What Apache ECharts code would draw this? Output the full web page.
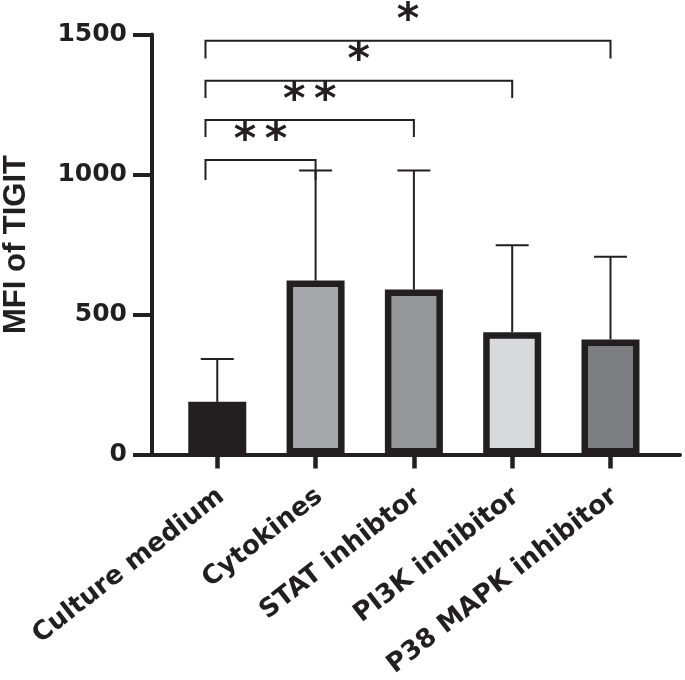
<!DOCTYPE html>
<html><head><meta charset="utf-8">
<script src="https://cdn.jsdelivr.net/npm/echarts@6/dist/echarts.min.js"></script>
<style>html,body{margin:0;padding:0;background:#fff}#c{width:685px;height:680px}</style>
</head><body><div id="c"></div>
<script>
const categories = ['Culture medium', 'Cytokines', 'STAT inhibtor', 'PI3K inhibitor', 'P38 MAPK inhibitor'];
const means = [188, 621, 589, 437, 411];
const upperErrors = [341, 1014, 1014, 747, 706];
const barColors = ['#231f20', '#a6a7aa', '#959698', '#d8d9db', '#7d7e81'];
const yTicks = [0, 500, 1000, 1500];
const bracketFrom = [1, 1, 1, 1];
const bracketTo = [2, 3, 4, 5];
const bracketTop = [1052, 1195, 1335, 1478];
const bracketBottom = [980, 1134, 1273, 1414];
const bracketLabels = ['*\u2009*', '*\u2009*', '*', '*'];
const starY = [1148, 1291, 1434, 1577];

const INK = '#231f20';
const chart = echarts.init(document.getElementById('c'));
const positions = categories.map((c, i) => i + 1);

chart.setOption({
  animation: false,
  backgroundColor: '#fff',
  grid: {left: 152, right: 5, top: 34.5, bottom: 225.5, containLabel: false, outerBoundsMode: 'none'},
  xAxis: {
    type: 'value', min: 0.336, max: 5.707,
    splitLine: {show: false},
    axisLine: {show: true, lineStyle: {color: INK, width: 4}},
    axisTick: {show: true, customValues: positions, length: 14, lineStyle: {color: INK, width: 4.5}},
    axisLabel: {
      customValues: positions.map(p => p + 0.04),
      formatter: v => categories[Math.round(v) - 1] || '',
      rotate: 38, margin: 39, color: INK,
      fontFamily: 'DejaVu Sans', fontWeight: 'bold', fontSize: 26
    }
  },
  yAxis: {
    type: 'value', min: yTicks[0], max: yTicks[yTicks.length - 1], interval: 500,
    splitLine: {show: false},
    axisLine: {show: true, lineStyle: {color: INK, width: 4}},
    axisTick: {show: true, length: 19, lineStyle: {color: INK, width: 4}},
    axisLabel: {margin: 25, color: INK, fontFamily: 'DejaVu Sans', fontWeight: 'bold', fontSize: 25, formatter: v => String(v)},
    name: 'MFI of TIGIT', nameLocation: 'middle', nameGap: 120,
    nameTextStyle: {color: INK, fontFamily: 'Liberation Sans', fontWeight: 'bold', fontSize: 31}
  },
  series: [
    {
      type: 'custom', name: 'error', z: 1,
      data: positions.map((p, i) => [p, means[i], upperErrors[i]]),
      encode: {x: 0, y: [1, 2]},
      renderItem: (params, api) => {
        const x = api.value(0);
        const b = api.coord([x, api.value(1)]);
        const t = api.coord([x, api.value(2)]);
        return {type: 'group', children: [
          {type: 'line', shape: {x1: b[0], y1: b[1], x2: t[0], y2: t[1]}, style: {stroke: INK, lineWidth: 2}},
          {type: 'line', shape: {x1: t[0] - 16.5, y1: t[1], x2: t[0] + 16.5, y2: t[1]}, style: {stroke: INK, lineWidth: 2}}
        ]};
      }
    },
    {
      type: 'bar', name: 'MFI', z: 3, barWidth: 58,
      data: positions.map((p, i) => ({value: [p, means[i]], itemStyle: {color: barColors[i]}})),
      itemStyle: {borderColor: INK, borderWidth: 6.5}
    },
    {
      type: 'custom', name: 'significance', z: 4, clip: false,
      data: bracketFrom.map((f, i) => [f - 0.12, bracketTo[i], bracketTop[i], bracketBottom[i], starY[i]]),
      encode: {x: [0, 1], y: [2, 3]},
      renderItem: (params, api) => {
        const i = params.dataIndex;
        const x1 = api.value(0), x2 = api.value(1), top = api.value(2), bot = api.value(3);
        const pl = api.coord([x1, top]), pr = api.coord([x2, top]);
        const bl = api.coord([x1, bot]), br = api.coord([x2, bot]);
        const s = api.coord([(x1 + x2) / 2, api.value(4)]);
        return {type: 'group', children: [
          {type: 'polyline', shape: {points: [bl, pl, pr, br]}, style: {stroke: INK, lineWidth: 2, fill: null}},
          {type: 'text', x: s[0], y: s[1] + 9, style: {text: bracketLabels[i], fill: INK, align: 'center', verticalAlign: 'middle', font: 'bold 43px "DejaVu Sans"'}}
        ]};
      }
    }
  ]
});
</script>
</body></html>
